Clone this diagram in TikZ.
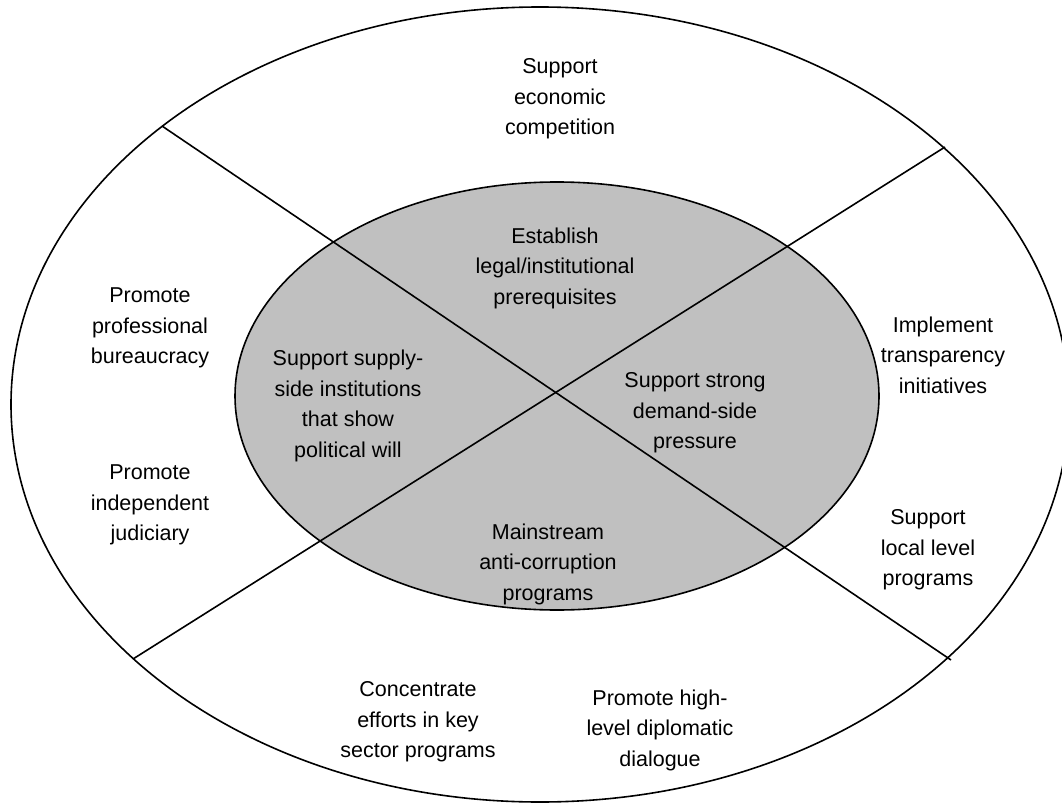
\documentclass[tikz,border=0pt]{standalone}
\usepackage{fontspec}
\setmainfont{Liberation Sans}
\begin{document}
\begin{tikzpicture}[x=1pt,y=-1pt,
  lbl/.style={align=center,font=\fontsize{21.5}{30.5}\selectfont,inner sep=0pt},
  ln/.style={line width=1.6pt,black}]
\useasboundingbox (0,0) rectangle (1062,805);
% outer ellipse
\draw[ln] (540,404.5) ellipse [x radius=529, y radius=397.5];
% inner ellipse
\draw[ln,fill={rgb,255:red,192;green,192;blue,192}] (557,396) ellipse [x radius=322, y radius=214];
% crossing lines
\coordinate (a1) at (162,126);
\coordinate (a2) at (951,660);
\coordinate (b1) at (945,147);
\coordinate (b2) at (133,659);
\draw[ln] (a1) -- (a2);
\draw[ln] (b1) -- (b2);
% labels
\node[lbl] (t1) at (560,99) {Support\\economic\\competition};
\node[lbl] (t2) at (555,268) {Establish\\legal/institutional\\prerequisites};
\node[lbl] (t3) at (150,328) {Promote\\professional\\bureaucracy};
\node[lbl] (t4) at (348,406) {Support supply-\\side institutions\\that show\\political will};
\node[lbl] (t5) at (695,413) {Support strong\\demand-side\\pressure};
\node[lbl] (t6) at (943,355) {Implement\\transparency\\initiatives};
\node[lbl] (t7) at (150,505) {Promote\\independent\\judiciary};
\node[lbl] (t8) at (548,564) {Mainstream\\anti-corruption\\programs};
\node[lbl] (t9) at (928,550) {Support\\local level\\programs};
\node[lbl] (t10) at (418,722) {Concentrate\\efforts in key\\sector programs};
\node[lbl] (t11) at (660,730) {Promote high-\\level diplomatic\\dialogue};
\end{tikzpicture}
\end{document}
